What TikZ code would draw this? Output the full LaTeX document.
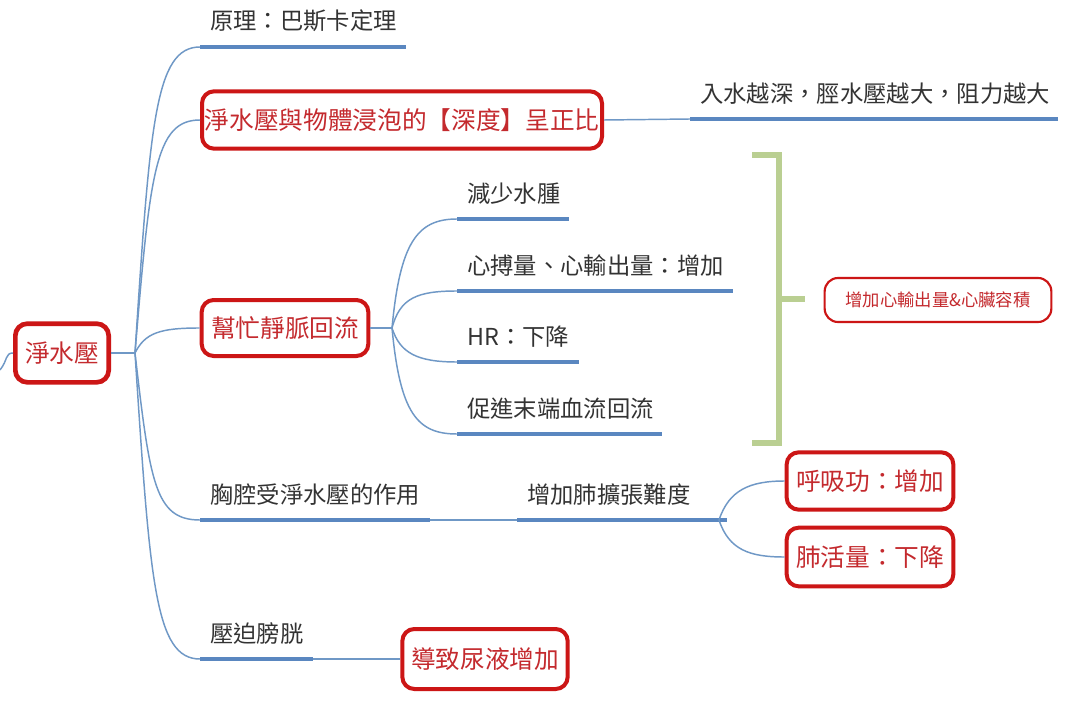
\documentclass[tikz,border=0pt]{standalone}
\usepackage{fontspec}
\setmainfont{Noto Sans CJK TC}
\usepackage{tikz}
\definecolor{mapblue}{HTML}{5A87C0}
\definecolor{linkblue}{HTML}{6F98C6}
\definecolor{mapred}{HTML}{CC1616}
\definecolor{mapredtext}{HTML}{C42A2E}
\definecolor{mapgray}{HTML}{333333}
\definecolor{mapgreen}{HTML}{BACF92}

\begin{document}
\begin{tikzpicture}[x=0.75pt,y=-0.75pt,
  link/.style={draw=linkblue,line width=1.1pt},
  uline/.style={draw=mapblue,line width=3.2pt},
  bracket/.style={draw=mapgreen,line width=4.5pt},
  leaf/.style={anchor=south west,inner xsep=7.5pt,inner ysep=11pt,text=mapgray,
    font=\fontsize{17.5}{20}\selectfont,
    append after command={\pgfextra{\draw[uline] (\tikzlastnode.south west) -- ++(#1,0)
      coordinate (\tikzlastnode-end);}}},
  redbox/.style={draw=mapred,line width=3pt,rounded corners=9pt,text=mapredtext,
    fill=white,font=\fontsize{18.5}{21}\selectfont,inner sep=0pt}]
\fill[white] (0,0) rectangle (1091,702);
\useasboundingbox (0,0) rectangle (1091,702);

\node[redbox,line width=3.5pt,minimum width=70pt,minimum height=44pt] (root) at (62,353) {淨水壓};
\coordinate (rootin) at (0,370);
\coordinate (rootfork) at (135,353);

\node[leaf=206] (principle) at (200,47) {原理：巴斯卡定理};
\node[redbox,minimum width=300pt,minimum height=43pt] (depth) at (402,120) {淨水壓與物體浸泡的【深度】呈正比};
\node[leaf=368] (deeper) at (690,119) {入水越深，脛水壓越大，阻力越大};

\node[redbox,minimum width=125pt,minimum height=42pt] (venous) at (285,328) {幫忙靜脈回流};
\coordinate (venousfork) at (392,328);
\node[leaf=112] (edema) at (457,219) {減少水腫};
\node[leaf=276] (output) at (457,291) {心搏量、心輸出量：增加};
\node[leaf=122] (hr) at (457,362) {HR：下降};
\node[leaf=205] (flow) at (457,434) {促進末端血流回流};

\coordinate (brtop) at (752,155);
\coordinate (brbot) at (752,443);
\coordinate (brmid) at (779,299);
\draw[bracket] (brtop) -- ++(27,0) |- (brbot);
\draw[bracket] (brmid) -- ++(26,0);
\node[redbox,line width=1.6pt,rounded corners=10pt,minimum width=170pt,minimum height=33pt,
  font=\fontsize{13}{15}\selectfont] (cardiac) at (938,300) {增加心輸出量\&心臟容積};

\node[leaf=230] (chest) at (200,520) {胸腔受淨水壓的作用};
\node[leaf=210] (lung) at (517,520) {增加肺擴張難度};
\coordinate (lungfork) at (719,520);
\node[redbox,minimum width=125pt,minimum height=43pt] (work) at (870,481) {呼吸功：增加};
\node[redbox,minimum width=125pt,minimum height=44pt] (capacity) at (870,557) {肺活量：下降};

\node[leaf=113] (bladder) at (200,659) {壓迫膀胱};
\node[redbox,minimum width=124pt,minimum height=45pt] (urine) at (485,659) {導致尿液增加};

\draw[link] (rootin) .. controls +(8,-10) and +(-8,0) .. (root.west);
\draw[link] (root.east) -- (rootfork);
\draw[link] (rootfork) .. controls +(15,-230) and +(-45,0) .. (principle.south west);
\draw[link] (rootfork) .. controls +(15,-180) and +(-45,0) .. (depth.west);
\draw[link] (rootfork) .. controls +(10,-20) and +(-40,0) .. (venous.west);
\draw[link] (rootfork) .. controls +(15,130) and +(-45,0) .. (chest.south west);
\draw[link] (rootfork) .. controls +(15,230) and +(-45,0) .. (bladder.south west);

\draw[link] (depth.east) -- (deeper.south west);

\draw[link] (venous.east) -- (venousfork);
\draw[link] (venousfork) .. controls +(8,-85) and +(-40,0) .. (edema.south west);
\draw[link] (venousfork) .. controls +(8,-30) and +(-40,0) .. (output.south west);
\draw[link] (venousfork) .. controls +(8,25) and +(-40,0) .. (hr.south west);
\draw[link] (venousfork) .. controls +(8,85) and +(-40,0) .. (flow.south west);

\draw[link] (chest-end) -- (lung.south west);
\draw[link] (lungfork) .. controls +(10,-30) and +(-35,0) .. (work.west);
\draw[link] (lungfork) .. controls +(10,30) and +(-35,0) .. (capacity.west);

\draw[link] (bladder-end) -- (urine.west);
\end{tikzpicture}
\end{document}
